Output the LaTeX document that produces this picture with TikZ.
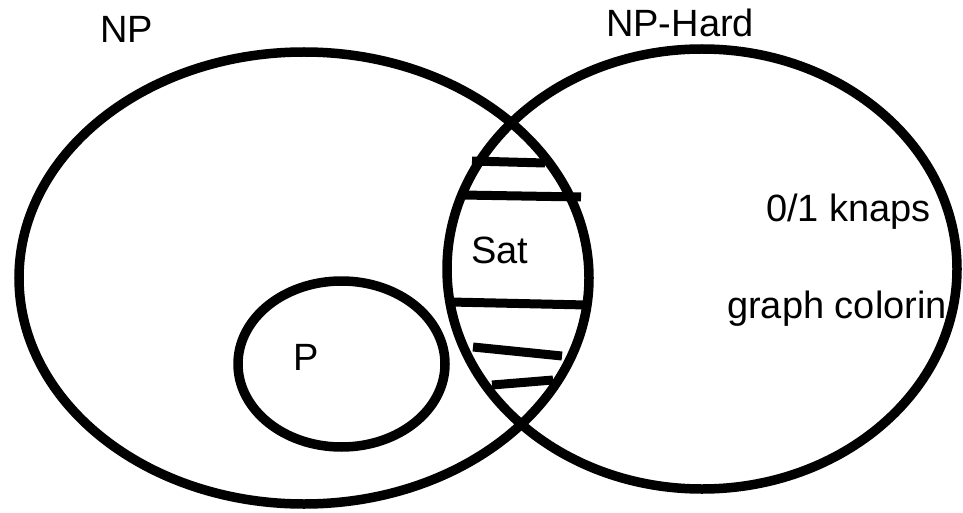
\documentclass[tikz,border=0pt]{standalone}
\usepackage{fontspec}
\setmainfont{Liberation Sans}
\usepackage{tikz}
\usetikzlibrary{calc}

\tikzset{
  setline/.style={line width=9.5pt},
  hatchline/.style={line width=9pt},
  setlabel/.style={inner sep=0pt,anchor=base west,font=\fontsize{38}{42}\selectfont}
}

\begin{document}
\begin{tikzpicture}[x=1pt,y=-1pt]
  \useasboundingbox (0,0) rectangle (963,513);
  % the three sets
  \coordinate (npc) at (304,278);
  \coordinate (hardc) at (702,269);
  \coordinate (pc) at (341.5,364);
  \draw[setline] (npc) ellipse [x radius=285,y radius=226];
  \draw[setline] (hardc) ellipse [x radius=255,y radius=220];
  \draw[setline] (pc) ellipse [x radius=103.5,y radius=83];
  % hatching of the overlap
  \draw[hatchline] (472,161) -- (545,163);
  \draw[hatchline] (462,195) -- (581,197);
  \draw[hatchline] (450,302) -- (587,305);
  \draw[hatchline] (473,347) -- (562,356);
  \draw[hatchline] (492,385) -- (553,380);
  % labels
  \node[setlabel] (np) at (100,43) {NP};
  \node[setlabel] (nphard) at (606,37) {NP-Hard};
  \node[setlabel] (sat) at (471,263) {Sat};
  \node[setlabel] (p) at (293,370) {P};
  \node[setlabel] (knap) at (766,221) {0/1 knaps};
  \node[setlabel] (color) at (727,318) {graph colorin};
\end{tikzpicture}
\end{document}
